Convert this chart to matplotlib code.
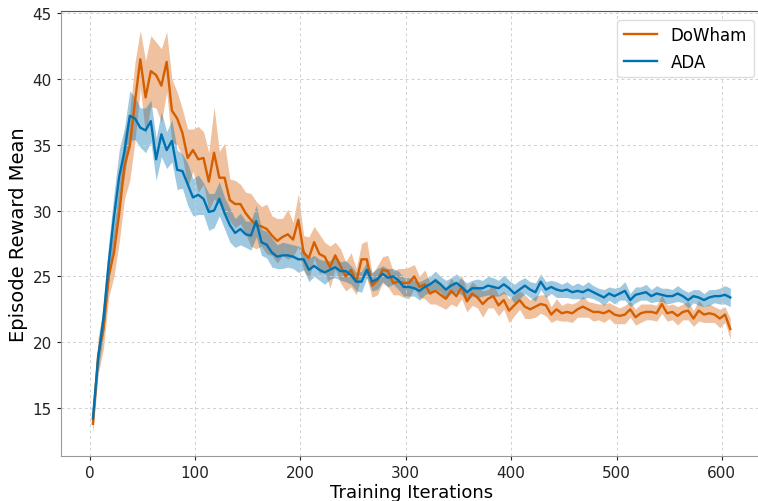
import matplotlib
matplotlib.use("Agg")
import matplotlib.pyplot as plt
import numpy as np

# training iterations (every 5th logged point)
iterations = list(range(3, 609, 5))

dowham_mean = [
    13.8, 19.0, 21.0, 25.0, 26.8, 29.8, 33.4, 34.9, 38.3, 41.5, 38.6, 40.6,
    40.3, 39.5, 41.3, 37.6, 37.0, 35.9, 34.0, 34.6, 33.9, 34.0, 32.2, 34.4,
    32.5, 32.5, 30.8, 30.5, 30.5, 29.8, 29.3, 28.9, 28.8, 28.6, 28.1, 27.7,
    28.0, 28.2, 27.8, 29.3, 26.8, 26.4, 27.6, 26.7, 26.5, 25.7, 26.6, 25.8,
    25.0, 25.5, 24.6, 26.3, 26.3, 24.3, 24.7, 25.5, 25.4, 24.5, 24.6, 24.5,
    24.5, 25.0, 24.2, 24.4, 23.7, 23.9, 23.6, 23.3, 23.9, 23.5, 24.2, 23.1,
    23.7, 23.4, 22.9, 23.3, 23.5, 22.8, 23.2, 22.4, 22.8, 23.2, 22.7, 22.5,
    22.7, 22.9, 22.8, 22.1, 22.5, 22.2, 22.3, 22.2, 22.5, 22.7, 22.5, 22.3,
    22.3, 22.2, 22.4, 22.1, 22.0, 22.1, 22.5, 21.9, 22.2, 22.3, 22.3, 22.2,
    22.9, 22.2, 22.3, 22.0, 22.3, 22.4, 21.8, 22.4, 22.1, 22.2, 22.1, 21.8,
    22.1, 21.0,
]
dowham_err = [
    0.8, 1.4, 1.5, 1.6, 1.8, 2.2, 2.5, 2.6, 3.0, 2.2, 2.8, 2.7,
    2.5, 2.8, 2.3, 2.4, 2.0, 1.8, 2.2, 1.6, 2.5, 2.0, 2.2, 3.5,
    2.0, 2.6, 1.6, 1.8, 1.5, 1.6, 2.0, 1.8, 1.5, 1.9, 1.5, 1.7,
    1.4, 1.9, 1.3, 2.0, 1.3, 1.6, 1.2, 1.5, 1.1, 1.6, 1.0, 1.3,
    1.1, 1.3, 1.0, 1.2, 1.4, 0.9, 1.1, 1.0, 1.2, 0.9, 1.0, 1.1,
    1.2, 0.9, 0.8, 1.1, 0.8, 1.0, 0.9, 0.8, 1.0, 0.8, 0.9, 0.8,
    0.9, 0.8, 1.0, 0.7, 0.9, 0.8, 0.7, 0.9, 0.8, 0.7, 0.9, 0.7,
    0.8, 0.7, 0.8, 0.6, 0.8, 0.6, 0.7, 0.7, 0.6, 0.8, 0.6, 0.7,
    0.6, 0.7, 0.6, 0.7, 0.6, 0.7, 0.6, 0.6, 0.7, 0.6, 0.6, 0.6,
    0.7, 0.6, 0.6, 0.7, 0.6, 0.7, 0.6, 0.8, 0.6, 0.7, 0.6, 0.7,
    0.6, 0.8,
]

ada_mean = [
    14.2, 18.8, 21.8, 26.0, 29.5, 32.6, 34.5, 37.2, 37.0, 36.3, 36.1, 36.8,
    33.9, 35.8, 34.6, 35.3, 33.1, 33.0, 32.0, 31.0, 31.2, 30.9, 29.9, 30.0,
    30.9, 29.8, 28.9, 28.3, 28.6, 28.2, 28.1, 29.2, 27.6, 27.4, 26.8, 26.5,
    26.6, 26.6, 26.5, 26.3, 26.3, 25.5, 25.8, 25.5, 25.3, 25.5, 25.7, 25.4,
    25.4, 25.1, 24.6, 24.6, 25.5, 24.6, 24.8, 25.2, 24.9, 25.0, 24.7, 24.2,
    24.2, 24.1, 23.9, 24.2, 24.4, 24.7, 24.4, 24.0, 24.3, 24.5, 24.2, 23.8,
    24.1, 24.1, 24.1, 24.3, 24.2, 24.1, 24.4, 24.1, 23.7, 24.0, 24.3, 24.0,
    23.8, 24.6, 24.0, 24.2, 24.0, 23.9, 24.0, 23.8, 23.9, 23.8, 24.0, 23.8,
    23.6, 23.4, 23.7, 23.5, 23.7, 23.9, 23.2, 23.6, 23.7, 23.8, 23.5, 23.7,
    23.6, 23.5, 23.5, 23.7, 23.5, 23.2, 23.5, 23.4, 23.2, 23.4, 23.5, 23.5,
    23.6, 23.4,
]
ada_err = [
    0.8, 1.0, 1.2, 1.5, 1.8, 2.0, 1.8, 1.9, 1.6, 1.5, 1.7, 1.6,
    1.6, 1.7, 1.4, 1.6, 1.5, 1.3, 1.6, 1.4, 1.5, 1.2, 1.4, 1.3,
    1.3, 1.2, 1.3, 1.1, 1.2, 1.0, 1.1, 1.2, 1.0, 1.0, 1.1, 0.9,
    1.0, 0.9, 0.9, 1.0, 0.8, 0.9, 0.8, 0.8, 0.9, 0.7, 0.8, 0.7,
    0.8, 0.7, 0.7, 0.8, 0.6, 0.7, 0.8, 0.6, 0.7, 0.6, 0.7, 0.7,
    0.7, 0.6, 0.7, 0.6, 0.6, 0.7, 0.6, 0.7, 0.6, 0.7, 0.6, 0.7,
    0.6, 0.7, 0.6, 0.7, 0.7, 0.6, 0.7, 0.6, 0.7, 0.7, 0.6, 0.6,
    0.7, 0.6, 0.6, 0.5, 0.6, 0.5, 0.6, 0.5, 0.6, 0.5, 0.6, 0.5,
    0.5, 0.6, 0.5, 0.6, 0.5, 0.7, 0.5, 0.6, 0.5, 0.6, 0.5, 0.6,
    0.5, 0.6, 0.5, 0.6, 0.5, 0.6, 0.5, 0.6, 0.5, 0.6, 0.5, 0.6,
    0.7, 0.7,
]

series = [
    ("DoWham", dowham_mean, dowham_err, "#d55e00"),
    ("ADA", ada_mean, ada_err, "#0072b2"),
]

fig = plt.figure(figsize=(7.58, 5.02), dpi=100)
# right edge of the axes runs just past the image border, as in the original
ax = fig.add_axes([0.0805, 0.0896, 0.925, 0.886])

x = np.array(iterations)
for name, mean, err, color in series:
    mean = np.array(mean)
    err = np.array(err)
    ax.plot(x, mean, color=color, linewidth=1.7, label=name)
    ax.fill_between(x, mean - err, mean + err, color=color, alpha=0.38, linewidth=0)

ax.set_xlim(-27.25, 638.25)
ax.set_ylim(11.35, 45.15)
ax.set_xticks([0, 100, 200, 300, 400, 500, 600])
ax.set_yticks([15, 20, 25, 30, 35, 40, 45])
ax.tick_params(axis="both", labelsize=11, colors="#222222", length=3)
for s in ax.spines.values():
    s.set_color("#999999")
ax.spines["top"].set_color("#555555")

ax.set_xlabel("Training Iterations", fontsize=13, labelpad=2)
ax.set_ylabel("Episode Reward Mean", fontsize=14, labelpad=3)
ax.grid(True, linestyle=(0, (3, 3)), color="#d0d0d0", linewidth=0.7)
ax.legend(loc="upper right", fontsize=12, framealpha=1.0, edgecolor="#dddddd")

fig.savefig("out.png", dpi=100)
plt.close(fig)
